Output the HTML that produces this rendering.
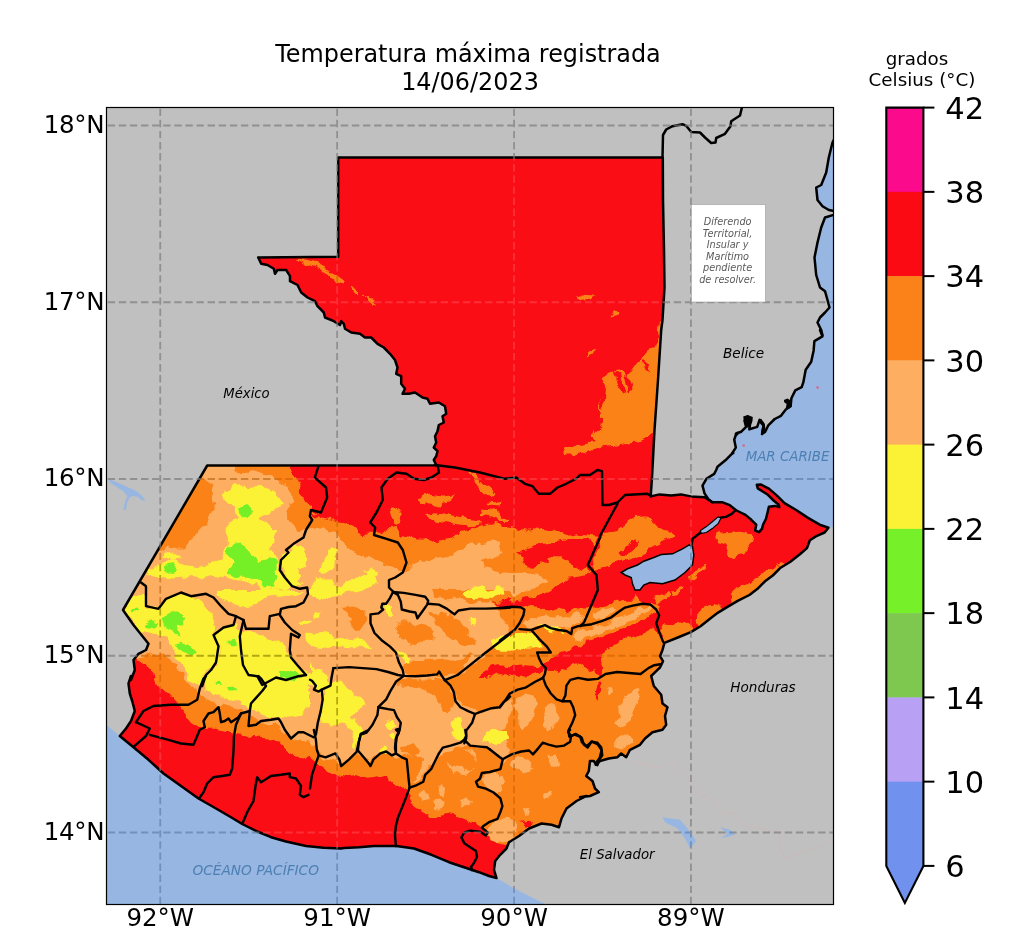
<!DOCTYPE html>
<html lang="es"><head><meta charset="utf-8"><title>Temperatura máxima registrada</title>
<style>
html,body{margin:0;padding:0;background:#fff;}
body{width:1024px;height:944px;overflow:hidden;font-family:"DejaVu Sans","Liberation Sans",sans-serif;}
svg{display:block}
svg text{font-family:"DejaVu Sans","Liberation Sans",sans-serif;fill:#000}
</style></head><body>
<svg width="1024" height="944" viewBox="0 0 1024 944">
<rect width="1024" height="944" fill="#fff"/>
<defs><clipPath id="ax"><rect x="106.5" y="107.5" width="727.0" height="797.0"/></clipPath></defs>
<rect x="106.5" y="107.5" width="727.0" height="797.0" fill="#c0c0c0"/>
<g clip-path="url(#ax)">
<path d="M106.0,724.8 L119.8,736.0 L133.5,747.2 L148.5,759.8 L163.5,773.5 L181.0,786.0 L198.5,798.5 L216.0,808.5 L231.0,817.2 L242.2,824.0 L256.0,831.0 L271.0,837.2 L286.0,841.5 L306.0,846.0 L323.5,847.8 L341.0,848.5 L344.0,848.0 L359.0,847.2 L374.0,846.0 L396.5,846.0 L414.0,848.5 L431.5,854.8 L449.0,862.2 L464.0,867.2 L479.0,872.2 L489.0,876.0 L496.5,878.0 L519.0,891.0 L544.0,903.5 L544.0,906.0 L106.0,906.0Z" fill="#97b6e1" stroke="none" stroke-width="0" />
<path d="M835.0,137.5 L832.5,142.5 L828.8,157.5 L826.2,172.5 L821.2,185.0 L816.2,187.5 L817.5,200.0 L822.5,206.2 L828.8,210.0 L833.0,211.2 L833.0,215.0 L825.0,217.5 L821.2,227.5 L817.5,242.5 L814.5,257.5 L816.2,275.0 L820.0,287.5 L825.0,291.2 L827.5,300.0 L829.5,307.5 L825.0,312.5 L820.0,317.5 L817.5,322.5 L821.2,330.0 L820.0,330.0 L822.4,336.4 L814.4,341.1 L813.6,350.7 L811.2,361.8 L805.7,369.7 L803.3,382.4 L801.7,387.2 L795.3,390.4 L791.4,398.3 L790.6,406.3 L785.8,409.5 L781.0,415.8 L774.7,419.0 L768.3,425.3 L765.2,431.7 L762.0,434.1 L763.6,425.3 L759.6,419.8 L757.2,426.9 L749.3,429.3 L750.9,419.0 L747.7,416.6 L744.5,420.6 L746.1,426.9 L741.3,431.7 L736.5,433.3 L734.2,439.6 L735.8,447.6 L731.8,453.9 L725.4,460.3 L717.5,466.7 L716.2,470.0 L714.2,473.9 L706.4,478.8 L702.5,485.6 L704.5,493.4 L708.4,499.3 L712.3,502.2 L722.0,502.2 L729.8,505.2 L735.7,510.0 L739.6,512.0 L745.5,514.9 L751.3,519.8 L756.2,524.7 L755.2,530.5 L759.1,532.1 L762.1,528.6 L763.0,524.7 L766.0,518.8 L767.9,511.0 L768.9,506.7 L774.8,505.9 L779.3,507.1 L778.7,504.8 L773.6,500.5 L767.9,494.8 L762.7,491.5 L757.8,488.4 L756.8,484.8 L761.1,484.6 L768.9,488.6 L776.7,495.4 L784.5,503.2 L796.2,510.0 L808.0,517.9 L819.7,524.7 L828.5,527.6 L837.3,526.6 L835.0,100.0Z" fill="#97b6e1" stroke="none" stroke-width="0" />
<path d="M108.6,478.8 L119.5,483.4 L129.7,488.0 L136.7,491.2 L142.2,496.0 L145.3,500.6 L142.2,500.6 L137.5,496.7 L132.8,496.0 L129.7,497.5 L127.3,502.2 L125.8,510.0 L123.4,510.0 L125.0,502.2 L127.3,496.0 L123.4,491.2 L117.2,487.3 L110.2,482.7Z" fill="#97b6e1" stroke="none" stroke-width="0" />
<path d="M662.5,817.2 L680.0,819.8 L687.5,828.5 L696.2,841.0 L690.0,848.5 L685.0,838.5 L677.5,828.5 L665.0,822.2Z" fill="#97b6e1" stroke="none" stroke-width="0" />
<path d="M720.0,827.2 L730.0,829.8 L735.0,834.8 L730.0,836.0 L721.2,838.5 L727.5,833.5Z" fill="#97b6e1" stroke="none" stroke-width="0" />
<path d="M632.5,761.0 L650.0,766.0 L665.0,768.5 L671.2,762.2 L675.0,768.5 L685.0,773.5 L690.0,783.5 L697.5,793.5 L710.0,798.5 L717.5,808.5 L723.8,814.8 L735.0,812.2 L737.5,821.0 L745.0,826.0 L760.0,828.5 L780.0,832.2 L781.2,851.0 L785.0,858.5 L805.0,851.0 L820.0,846.0 L830.0,838.5" fill="none" stroke="#cdb8b8" stroke-width="0.8" stroke-linejoin="round" stroke-linecap="round" />
<path d="M338.2,256.8 L338.2,157.5 L662.8,157.5 L663.0,200.0 L664.0,250.0 L664.5,287.5 L662.5,320.0 L661.2,330.0 L658.0,380.0 L654.5,430.0 L652.0,477.5 L650.7,496.4 L659.5,494.4 L671.2,495.4 L681.0,494.4 L690.8,496.4 L704.5,497.3 L712.3,502.2 L722.0,502.2 L729.8,505.2 L735.7,510.0 L739.6,512.0 L745.5,514.9 L751.3,519.8 L756.2,524.7 L755.2,530.5 L759.1,532.1 L762.1,528.6 L763.0,524.7 L766.0,518.8 L767.9,511.0 L768.9,506.7 L774.8,505.9 L779.3,507.1 L778.7,504.8 L773.6,500.5 L767.9,494.8 L762.7,491.5 L757.8,488.4 L756.8,484.8 L761.1,484.6 L768.9,488.6 L776.7,495.4 L784.5,503.2 L796.2,510.0 L808.0,517.9 L819.7,524.7 L828.5,527.6 L824.6,532.5 L815.8,536.4 L809.9,540.3 L807.0,548.1 L800.2,554.0 L790.4,561.8 L780.6,567.7 L772.8,575.5 L765.0,581.3 L757.2,589.1 L749.4,595.0 L737.7,600.9 L727.9,606.7 L718.1,612.6 L710.3,618.4 L700.5,626.2 L690.8,632.1 L679.1,637.0 L664.4,642.9 L662.5,650.0 L660.0,656.2 L663.0,661.2 L660.0,667.5 L656.2,671.2 L651.2,676.0 L653.8,686.0 L661.2,694.8 L662.5,703.5 L667.5,707.2 L665.0,716.0 L666.2,724.8 L662.5,729.8 L652.5,732.2 L645.0,738.5 L640.0,744.8 L630.0,749.8 L626.2,757.2 L621.2,753.5 L617.5,757.2 L608.8,758.5 L600.0,761.0 L596.2,764.8 L593.8,761.0 L590.0,761.0 L588.8,771.0 L586.2,776.0 L592.5,781.0 L595.0,788.5 L598.8,792.2 L590.0,796.0 L580.0,797.2 L586.5,796.0 L576.5,801.0 L566.5,808.5 L561.5,818.5 L559.0,827.2 L551.5,824.8 L541.5,823.5 L529.0,828.5 L519.0,836.0 L509.0,842.2 L506.5,848.5 L500.2,854.8 L495.2,861.0 L494.0,869.8 L496.5,878.0 L489.0,876.0 L479.0,872.2 L464.0,867.2 L449.0,862.2 L431.5,854.8 L414.0,848.5 L396.5,846.0 L374.0,846.0 L359.0,847.2 L344.0,848.0 L341.0,848.5 L323.5,847.8 L306.0,846.0 L286.0,841.5 L271.0,837.2 L256.0,831.0 L242.2,824.0 L231.0,817.2 L216.0,808.5 L198.5,798.5 L181.0,786.0 L163.5,773.5 L148.5,759.8 L133.5,747.2 L119.8,736.0 L126.0,728.5 L131.0,721.0 L134.8,711.0 L132.2,701.0 L129.8,693.5 L128.5,683.5 L131.0,676.0 L131.0,680.0 L134.8,670.0 L133.5,660.0 L138.5,653.8 L146.0,650.0 L148.5,643.8 L143.5,637.5 L133.5,625.0 L123.0,610.0 L207.2,465.5 L436.0,465.3 L436.2,465.0 L433.8,460.0 L436.2,456.2 L437.5,451.2 L433.8,447.5 L436.2,442.5 L435.0,436.2 L437.5,431.2 L438.8,425.0 L443.8,422.5 L442.5,416.2 L446.2,413.8 L445.0,406.2 L438.8,402.5 L430.0,403.8 L427.5,398.8 L422.5,397.5 L415.0,392.5 L408.8,393.8 L402.5,393.8 L405.0,388.8 L401.2,383.8 L401.2,376.2 L396.2,373.8 L397.5,367.5 L395.0,360.0 L390.0,353.8 L383.8,347.5 L377.5,343.8 L371.2,337.5 L365.0,337.5 L360.0,333.8 L351.2,332.5 L345.0,328.8 L343.8,323.8 L341.2,321.2 L340.0,325.0 L333.8,321.2 L325.0,317.5 L323.8,312.5 L317.5,306.2 L315.0,301.2 L307.5,297.5 L301.2,292.5 L297.5,285.0 L290.0,281.2 L290.0,276.2 L286.2,270.0 L277.5,270.0 L275.0,273.8 L273.8,268.8 L267.5,265.0 L261.2,263.8 L258.2,257.5Z" fill="#fb0a14" stroke="none" stroke-width="0" />
<clipPath id="gt"><path d="M338.2,256.8 L338.2,157.5 L662.8,157.5 L663.0,200.0 L664.0,250.0 L664.5,287.5 L662.5,320.0 L661.2,330.0 L658.0,380.0 L654.5,430.0 L652.0,477.5 L650.7,496.4 L659.5,494.4 L671.2,495.4 L681.0,494.4 L690.8,496.4 L704.5,497.3 L712.3,502.2 L722.0,502.2 L729.8,505.2 L735.7,510.0 L739.6,512.0 L745.5,514.9 L751.3,519.8 L756.2,524.7 L755.2,530.5 L759.1,532.1 L762.1,528.6 L763.0,524.7 L766.0,518.8 L767.9,511.0 L768.9,506.7 L774.8,505.9 L779.3,507.1 L778.7,504.8 L773.6,500.5 L767.9,494.8 L762.7,491.5 L757.8,488.4 L756.8,484.8 L761.1,484.6 L768.9,488.6 L776.7,495.4 L784.5,503.2 L796.2,510.0 L808.0,517.9 L819.7,524.7 L828.5,527.6 L824.6,532.5 L815.8,536.4 L809.9,540.3 L807.0,548.1 L800.2,554.0 L790.4,561.8 L780.6,567.7 L772.8,575.5 L765.0,581.3 L757.2,589.1 L749.4,595.0 L737.7,600.9 L727.9,606.7 L718.1,612.6 L710.3,618.4 L700.5,626.2 L690.8,632.1 L679.1,637.0 L664.4,642.9 L662.5,650.0 L660.0,656.2 L663.0,661.2 L660.0,667.5 L656.2,671.2 L651.2,676.0 L653.8,686.0 L661.2,694.8 L662.5,703.5 L667.5,707.2 L665.0,716.0 L666.2,724.8 L662.5,729.8 L652.5,732.2 L645.0,738.5 L640.0,744.8 L630.0,749.8 L626.2,757.2 L621.2,753.5 L617.5,757.2 L608.8,758.5 L600.0,761.0 L596.2,764.8 L593.8,761.0 L590.0,761.0 L588.8,771.0 L586.2,776.0 L592.5,781.0 L595.0,788.5 L598.8,792.2 L590.0,796.0 L580.0,797.2 L586.5,796.0 L576.5,801.0 L566.5,808.5 L561.5,818.5 L559.0,827.2 L551.5,824.8 L541.5,823.5 L529.0,828.5 L519.0,836.0 L509.0,842.2 L506.5,848.5 L500.2,854.8 L495.2,861.0 L494.0,869.8 L496.5,878.0 L489.0,876.0 L479.0,872.2 L464.0,867.2 L449.0,862.2 L431.5,854.8 L414.0,848.5 L396.5,846.0 L374.0,846.0 L359.0,847.2 L344.0,848.0 L341.0,848.5 L323.5,847.8 L306.0,846.0 L286.0,841.5 L271.0,837.2 L256.0,831.0 L242.2,824.0 L231.0,817.2 L216.0,808.5 L198.5,798.5 L181.0,786.0 L163.5,773.5 L148.5,759.8 L133.5,747.2 L119.8,736.0 L126.0,728.5 L131.0,721.0 L134.8,711.0 L132.2,701.0 L129.8,693.5 L128.5,683.5 L131.0,676.0 L131.0,680.0 L134.8,670.0 L133.5,660.0 L138.5,653.8 L146.0,650.0 L148.5,643.8 L143.5,637.5 L133.5,625.0 L123.0,610.0 L207.2,465.5 L436.0,465.3 L436.2,465.0 L433.8,460.0 L436.2,456.2 L437.5,451.2 L433.8,447.5 L436.2,442.5 L435.0,436.2 L437.5,431.2 L438.8,425.0 L443.8,422.5 L442.5,416.2 L446.2,413.8 L445.0,406.2 L438.8,402.5 L430.0,403.8 L427.5,398.8 L422.5,397.5 L415.0,392.5 L408.8,393.8 L402.5,393.8 L405.0,388.8 L401.2,383.8 L401.2,376.2 L396.2,373.8 L397.5,367.5 L395.0,360.0 L390.0,353.8 L383.8,347.5 L377.5,343.8 L371.2,337.5 L365.0,337.5 L360.0,333.8 L351.2,332.5 L345.0,328.8 L343.8,323.8 L341.2,321.2 L340.0,325.0 L333.8,321.2 L325.0,317.5 L323.8,312.5 L317.5,306.2 L315.0,301.2 L307.5,297.5 L301.2,292.5 L297.5,285.0 L290.0,281.2 L290.0,276.2 L286.2,270.0 L277.5,270.0 L275.0,273.8 L273.8,268.8 L267.5,265.0 L261.2,263.8 L258.2,257.5Z"/></clipPath>
<filter id="rough" x="0" y="0" width="1024" height="944" filterUnits="userSpaceOnUse"><feTurbulence type="fractalNoise" baseFrequency="0.09" numOctaves="3" seed="7" result="n"/><feDisplacementMap in="SourceGraphic" in2="n" scale="9" xChannelSelector="R" yChannelSelector="G"/></filter>
<g clip-path="url(#gt)"><g filter="url(#rough)">
<rect x="90" y="140" width="760" height="780" fill="#fb0a14"/>
<path d="M289.9,466.4 L295.8,475.2 L299.7,486.9 L301.6,496.6 L305.5,504.5 L310.4,508.4 L320.0,514.2 L307.8,512.3 L317.6,518.1 L329.3,520.1 L343.0,524.0 L352.7,527.9 L358.6,531.8 L366.4,533.8 L374.2,533.8 L378.1,531.8 L385.9,529.8 L393.8,527.9 L401.6,535.7 L409.4,537.7 L417.2,539.6 L425.0,539.6 L436.7,541.6 L448.4,537.7 L456.2,533.8 L462.1,531.8 L475.8,527.9 L487.5,524.0 L500.0,522.0 L491.7,522.0 L503.4,525.9 L515.2,527.9 L528.8,531.8 L542.5,527.9 L554.2,529.8 L565.9,535.7 L581.6,533.8 L597.2,535.7 L700.0,535.0 L700.0,900.0 L100.0,900.0 L100.0,455.0 L290.0,455.0Z" fill="#fb8219" stroke="none" stroke-width="0" />
<path d="M597.0,533.0 L850.0,533.0 L850.0,640.0 L670.0,646.0 L661.5,643.0 L657.6,634.0 L653.7,622.3 L659.5,614.5 L658.6,606.7 L649.8,602.8 L640.0,604.8 L636.7,595.9 L632.8,599.8 L625.0,599.8 L617.2,601.7 L609.4,603.7 L601.6,607.6 L595.7,605.6 L584.0,605.6 L574.2,607.6 L566.4,611.5 L558.6,609.5 L546.9,609.5 L535.0,607.6 L523.4,605.6 L511.7,605.6 L500.0,606.6 L492.0,604.0 L500.0,601.7 L519.5,599.8 L539.0,595.9 L550.0,590.0 L558.0,584.0 L566.0,579.0 L576.0,577.0 L589.4,574.8 L586.4,567.0 L589.4,561.0 L597.2,535.7Z" fill="#fb0a14" stroke="none" stroke-width="0" />
<path d="M500.0,668.1 L511.7,666.2 L525.4,665.2 L541.0,666.2 L546.9,660.3 L558.6,654.5 L570.3,648.6 L585.9,642.7 L601.6,636.9 L617.2,631.0 L632.8,625.2 L644.5,619.3 L654.3,613.4 L664.1,607.6 L664.1,617.3 L656.2,623.2 L652.3,629.1 L644.5,633.0 L632.8,636.9 L625.0,638.8 L617.2,642.7 L609.4,646.6 L601.6,652.5 L602.5,664.2 L601.6,675.9 L597.7,674.0 L593.8,668.1 L587.9,670.1 L582.0,666.2 L574.2,662.3 L566.4,668.1 L558.6,674.0 L554.7,670.1 L548.8,670.1 L544.9,668.1 L539.1,672.0 L529.3,675.0 L519.5,675.9 L509.8,673.0 L500.0,674.0Z" fill="#fb0a14" stroke="none" stroke-width="0" />
<path d="M479.9,677.9 L487.7,668.1 L497.5,665.2 L510.0,666.2 L510.0,675.9 L501.4,674.0 L493.6,675.0 L485.8,677.9Z" fill="#fb0a14" stroke="none" stroke-width="0" />
<path d="M497.5,601.7 L510.0,597.8 L510.0,605.6 L503.4,604.6Z" fill="#fb0a14" stroke="none" stroke-width="0" />
<path d="M593.8,697.4 L597.7,683.8 L601.6,683.8 L600.6,691.6 L596.7,699.4Z" fill="#fb0a14" stroke="none" stroke-width="0" />
<path d="M517.1,553.3 L526.9,551.3 L538.6,547.4 L548.4,543.5 L562.0,541.6 L573.8,541.6 L587.4,542.5 L573.8,545.5 L565.9,549.4 L571.8,555.2 L577.7,559.1 L583.5,565.0 L575.7,561.1 L565.9,557.2 L558.1,553.3 L552.3,557.2 L546.4,559.1 L548.4,563.0 L540.5,561.1 L532.7,557.2 L526.9,561.1 L528.8,567.0 L523.9,563.0 L523.0,557.2Z" fill="#fb0a14" stroke="none" stroke-width="0" />
<path d="M135.4,658.4 L141.2,662.3 L149.1,668.1 L154.9,675.9 L158.8,685.7 L164.7,693.5 L172.5,699.4 L178.4,705.2 L182.3,711.1 L188.1,718.9 L195.9,724.8 L203.8,728.7 L215.5,728.7 L225.2,730.6 L235.0,734.5 L246.7,736.5 L258.4,737.5 L270.2,738.4 L278.0,742.3 L285.8,750.2 L295.5,756.0 L305.3,758.0 L310.0,757.3 L317.8,763.2 L325.6,769.1 L335.4,773.9 L345.2,776.9 L354.9,774.9 L362.7,777.9 L374.5,776.9 L384.2,774.9 L392.0,780.8 L399.8,786.6 L407.7,790.5 L409.6,798.4 L415.5,806.2 L423.3,812.0 L431.1,815.9 L440.9,815.9 L448.7,814.0 L456.5,815.9 L466.2,819.8 L476.0,823.8 L481.9,827.7 L485.8,831.6 L489.7,839.4 L497.5,843.3 L505.3,845.2 L497.8,843.3 L505.6,845.2 L511.5,841.3 L530.0,900.0 L100.0,900.0 L100.0,655.0Z" fill="#fb0a14" stroke="none" stroke-width="0" />
<path d="M520.2,551.3 L533.9,545.5 L553.4,542.3 L573.0,539.6 L588.6,537.7 L594.5,547.4 L590.5,565.0 L580.8,570.9 L571.0,564.2 L559.3,557.2 L549.5,557.2 L539.8,561.9 L532.0,568.9 L524.1,561.1Z" fill="#fb0a14" stroke="none" stroke-width="0" />
<path d="M597.5,445.0 L592.5,435.0 L596.2,425.0 L600.0,415.0 L597.5,405.0 L602.5,395.0 L605.0,385.0 L602.5,377.5 L610.0,372.5 L620.0,370.0 L627.5,375.0 L635.0,365.0 L642.5,357.5 L650.0,350.0 L656.2,347.5 L658.8,332.5 L660.0,322.5 L670.0,322.5 L670.0,432.5 L653.8,432.5 L647.5,437.5 L637.5,441.2 L625.0,442.5 L612.5,442.5 L602.5,445.0Z" fill="#fb8219" stroke="none" stroke-width="0" />
<path d="M562.5,450.0 L575.0,446.2 L590.0,442.5 L597.5,445.0 L590.0,450.0 L580.0,453.8 L570.0,453.8Z" fill="#fb8219" stroke="none" stroke-width="0" />
<path d="M591.3,565.0 L597.2,549.4 L605.0,533.8 L616.7,529.8 L628.4,522.0 L636.2,517.1 L648.0,516.2 L653.8,522.0 L659.7,527.9 L667.5,529.8 L675.3,535.7 L667.5,539.6 L655.8,541.6 L651.9,547.4 L648.0,553.3 L636.2,557.2 L624.5,561.1 L612.8,565.0 L601.1,568.9 L593.3,570.9Z" fill="#fb8219" stroke="none" stroke-width="0" />
<path d="M640.0,516.9 L647.8,516.9 L653.7,522.7 L661.5,528.6 L671.2,532.5 L675.2,536.4 L667.3,540.3 L659.5,542.3 L653.7,548.1 L647.8,550.1 L640.0,552.0 L632.2,548.1 L632.2,520.8Z" fill="#fb8219" stroke="none" stroke-width="0" />
<path d="M715.2,536.4 L722.0,532.5 L733.8,531.5 L745.5,532.5 L752.3,534.5 L751.3,542.3 L746.4,548.1 L743.5,554.0 L735.7,557.9 L727.9,555.9 L724.0,550.1 L725.9,544.2 L718.1,542.3Z" fill="#fb8219" stroke="none" stroke-width="0" />
<path d="M784.5,563.4 L776.7,566.1 L767.0,571.6 L761.1,576.4 L755.2,578.4 L749.4,582.3 L741.6,584.3 L735.7,589.1 L729.8,595.0 L731.8,602.8 L741.6,606.7 L796.2,567.7Z" fill="#fb8219" stroke="none" stroke-width="0" />
<path d="M696.6,620.4 L698.6,612.6 L704.5,606.7 L712.3,603.8 L718.1,605.7 L721.1,610.6 L722.0,618.4 L700.5,632.1Z" fill="#fb8219" stroke="none" stroke-width="0" />
<path d="M659.5,632.1 L663.4,624.3 L673.2,625.3 L679.1,622.3 L688.8,624.3 L692.7,628.2 L694.7,636.0 L679.1,645.8 L661.5,645.8Z" fill="#fb8219" stroke="none" stroke-width="0" />
<path d="M686.9,576.4 L692.7,571.6 L702.5,566.7 L705.4,568.6 L698.6,573.5 L690.8,579.4Z" fill="#fb8219" stroke="none" stroke-width="0" />
<path d="M671.2,591.1 L684.9,587.2 L683.9,590.1 L673.2,595.0Z" fill="#fb8219" stroke="none" stroke-width="0" />
<path d="M655.6,597.0 L669.3,592.1 L671.2,595.0 L659.5,602.8 L653.7,604.8Z" fill="#fb8219" stroke="none" stroke-width="0" />
<path d="M468.0,473.2 L475.8,475.2 L487.5,486.9 L495.3,494.7 L493.4,496.6 L483.6,490.8 L471.9,481.0Z" fill="#fb8219" stroke="none" stroke-width="0" />
<path d="M417.2,498.6 L428.9,494.7 L444.5,496.6 L456.2,494.7 L452.3,498.6 L444.5,500.5 L440.6,506.4 L428.9,504.5 L421.1,502.5Z" fill="#fb8219" stroke="none" stroke-width="0" />
<path d="M392.8,506.4 L397.7,506.4 L401.6,514.2 L399.6,524.0 L393.8,525.9 L390.8,518.1Z" fill="#fb8219" stroke="none" stroke-width="0" />
<path d="M425.0,514.2 L436.7,512.3 L448.4,516.2 L460.2,518.1 L475.8,520.1 L483.6,524.0 L471.9,525.9 L456.2,524.0 L444.5,522.0 L432.8,520.1Z" fill="#fb8219" stroke="none" stroke-width="0" />
<path d="M479.7,508.4 L491.4,509.3 L503.1,514.2 L503.1,518.1 L491.4,515.2 L481.6,512.3Z" fill="#fb8219" stroke="none" stroke-width="0" />
<path d="M487.5,502.5 L500.0,503.5 L500.0,506.4 L489.5,505.4Z" fill="#fb8219" stroke="none" stroke-width="0" />
<path d="M562.0,451.7 L573.8,445.9 L589.4,442.0 L605.0,440.0 L640.2,440.0 L628.4,442.9 L612.8,444.9 L597.2,447.8 L585.5,451.7 L573.8,454.6 L564.0,454.6Z" fill="#fb8219" stroke="none" stroke-width="0" />
<path d="M480.0,481.0 L487.8,486.9 L494.6,495.7 L485.9,492.7 L480.0,488.8Z" fill="#fb8219" stroke="none" stroke-width="0" />
<path d="M480.0,512.3 L491.7,511.3 L503.4,516.2 L511.2,520.1 L499.5,520.1 L487.8,517.1 L480.0,516.2Z" fill="#fb8219" stroke="none" stroke-width="0" />
<path d="M575.0,297.5 L585.0,293.8 L595.0,294.5 L590.0,298.8 L580.0,300.0Z" fill="#fb8219" stroke="none" stroke-width="0" />
<path d="M610.0,317.5 L613.8,312.5 L618.0,311.2 L615.0,316.2Z" fill="#fb8219" stroke="none" stroke-width="0" />
<path d="M585.0,357.5 L590.0,351.2 L596.2,348.8 L592.5,355.0Z" fill="#fb8219" stroke="none" stroke-width="0" />
<path d="M296.2,258.8 L310.0,260.0 L322.5,265.0 L330.0,271.2 L326.2,272.5 L315.0,267.5 L305.0,263.8Z" fill="#fb8219" stroke="none" stroke-width="0" />
<path d="M325.0,272.5 L335.0,273.8 L343.8,280.0 L341.2,283.8 L332.5,280.0Z" fill="#fb8219" stroke="none" stroke-width="0" />
<path d="M350.0,286.2 L357.5,290.0 L360.0,295.0 L353.8,292.5Z" fill="#fb8219" stroke="none" stroke-width="0" />
<path d="M363.8,295.0 L372.5,298.8 L377.5,303.8 L370.0,301.2Z" fill="#fb8219" stroke="none" stroke-width="0" />
<path d="M613.8,371.2 L620.0,375.0 L623.8,386.2 L627.5,391.2 L622.5,392.5 L617.5,385.0Z" fill="#fb0a14" stroke="none" stroke-width="0" />
<path d="M625.0,375.0 L630.0,377.5 L633.0,387.5 L630.0,391.2 L627.0,383.8Z" fill="#fb0a14" stroke="none" stroke-width="0" />
<path d="M602.5,382.5 L606.2,387.5 L605.0,400.0 L601.2,410.0 L598.8,405.0 L602.0,395.0Z" fill="#fb0a14" stroke="none" stroke-width="0" />
<path d="M642.5,358.8 L647.5,362.5 L650.0,372.5 L645.5,370.0Z" fill="#fb0a14" stroke="none" stroke-width="0" />
<path d="M595.0,417.5 L602.5,420.0 L600.0,430.0 L595.5,435.0 L593.8,426.2Z" fill="#fb0a14" stroke="none" stroke-width="0" />
<path d="M616.7,553.3 L624.5,549.4 L630.4,541.6 L636.2,539.6 L638.2,545.5 L634.3,551.3 L626.5,555.2 L620.6,557.2Z" fill="#fb0a14" stroke="none" stroke-width="0" />
<path d="M200.0,455.0 L235.0,455.0 L235.2,469.0 L241.0,472.0 L253.0,471.0 L264.5,475.0 L276.0,479.0 L286.0,485.0 L292.0,494.7 L290.0,504.5 L286.0,514.0 L292.0,524.0 L300.0,528.0 L311.7,526.0 L323.4,528.0 L335.0,531.8 L343.0,541.6 L350.8,549.4 L362.5,555.3 L374.2,559.0 L384.0,565.0 L397.7,567.0 L403.5,574.8 L409.4,567.0 L421.0,561.0 L436.7,559.0 L448.4,557.0 L458.2,551.3 L466.0,545.5 L479.7,543.5 L491.4,541.6 L500.0,541.6 L499.5,547.4 L501.5,553.3 L491.7,559.0 L484.0,565.0 L499.5,570.9 L519.0,572.8 L538.6,574.8 L546.4,580.6 L538.6,586.5 L519.0,594.3 L499.5,598.2 L490.0,603.0 L500.0,612.0 L510.0,635.0 L458.4,674.0 L456.5,675.9 L444.8,681.8 L452.6,687.7 L456.5,699.4 L462.3,705.2 L472.1,709.1 L479.9,713.0 L493.6,707.2 L501.4,705.2 L510.0,699.4 L507.8,695.5 L513.7,703.3 L511.7,715.0 L505.9,726.7 L500.0,728.7 L510.0,753.4 L503.4,765.2 L501.4,757.3 L493.6,749.5 L485.8,747.6 L476.0,749.5 L466.2,745.6 L454.5,747.6 L444.8,751.5 L438.9,757.3 L433.0,765.2 L427.2,773.0 L419.4,778.8 L411.6,782.7 L415.5,774.9 L421.3,767.1 L423.3,759.3 L415.5,755.4 L407.7,755.4 L401.8,757.3 L395.9,759.3 L392.0,755.4 L384.2,751.5 L376.4,755.4 L370.5,763.2 L362.7,755.4 L356.9,751.5 L347.1,759.3 L339.3,763.2 L329.5,759.3 L321.7,757.3 L317.8,749.5 L315.9,743.7 L310.0,744.3 L305.3,742.3 L293.6,738.4 L285.8,734.5 L279.9,726.7 L274.1,722.8 L266.2,724.8 L258.4,722.8 L250.6,715.0 L242.8,711.1 L235.0,707.2 L227.2,705.2 L215.5,703.3 L207.7,699.4 L201.8,693.5 L197.9,689.6 L192.0,685.7 L184.2,679.8 L178.4,672.0 L176.4,664.2 L168.6,656.4 L158.8,654.5 L145.2,656.4 L135.4,656.4 L127.6,656.4 L119.8,609.5Z" fill="#fdae61" stroke="none" stroke-width="0" />
<path d="M523.4,623.2 L535.2,617.3 L546.9,615.4 L558.6,617.3 L570.3,615.4 L578.1,611.5 L584.0,615.4 L578.1,623.2 L570.3,627.1 L558.6,629.1 L546.9,626.1 L535.2,627.1 L527.3,628.1Z" fill="#fdae61" stroke="none" stroke-width="0" />
<path d="M593.8,615.4 L601.6,609.5 L609.4,607.6 L615.2,609.5 L609.4,615.4 L601.6,619.3 L595.7,619.3Z" fill="#fdae61" stroke="none" stroke-width="0" />
<path d="M572.3,633.0 L585.9,629.1 L601.6,625.2 L617.2,619.3 L628.9,613.4 L640.6,609.5 L648.4,605.6 L652.3,607.6 L644.5,613.4 L632.8,619.3 L621.1,625.2 L609.4,629.1 L597.7,634.9 L585.9,638.8 L576.2,640.8 L572.3,636.9Z" fill="#fdae61" stroke="none" stroke-width="0" />
<path d="M515.6,699.4 L525.4,693.5 L535.2,695.5 L539.1,703.3 L535.2,711.1 L529.3,722.8 L523.4,730.6 L517.6,726.7 L519.5,715.0 L515.6,707.2Z" fill="#fdae61" stroke="none" stroke-width="0" />
<path d="M544.9,711.1 L550.8,703.3 L556.6,707.2 L558.6,717.0 L554.7,726.7 L548.8,732.6 L543.9,726.7Z" fill="#fdae61" stroke="none" stroke-width="0" />
<path d="M617.2,707.2 L625.0,699.4 L632.8,691.6 L640.6,689.6 L638.7,699.4 L634.8,707.2 L630.9,717.0 L625.0,726.7 L619.1,730.6 L615.2,724.8 L619.1,717.0Z" fill="#fdae61" stroke="none" stroke-width="0" />
<path d="M615.2,738.4 L625.0,734.5 L632.8,738.4 L628.9,746.2 L621.1,750.2 L615.2,746.2Z" fill="#fdae61" stroke="none" stroke-width="0" />
<path d="M548.8,758.0 L554.7,756.0 L558.6,761.9 L553.7,766.8 L548.8,763.8Z" fill="#fdae61" stroke="none" stroke-width="0" />
<path d="M608.4,686.7 L612.3,687.7 L612.9,693.5 L609.4,694.5Z" fill="#fdae61" stroke="none" stroke-width="0" />
<path d="M446.7,755.4 L458.4,751.5 L472.1,751.5 L478.0,759.3 L474.1,769.1 L464.3,774.9 L454.5,773.0 L448.7,765.2Z" fill="#fdae61" stroke="none" stroke-width="0" />
<path d="M419.4,792.5 L425.2,789.6 L430.1,793.5 L428.2,799.3 L422.3,800.3Z" fill="#fdae61" stroke="none" stroke-width="0" />
<path d="M431.1,802.3 L438.9,799.3 L444.8,803.2 L442.8,808.1 L435.0,809.1Z" fill="#fdae61" stroke="none" stroke-width="0" />
<path d="M437.0,786.6 L441.8,783.7 L445.2,788.6 L443.8,796.4 L438.9,795.4Z" fill="#fdae61" stroke="none" stroke-width="0" />
<path d="M460.4,800.3 L466.2,797.4 L472.1,800.3 L470.2,806.2 L463.3,806.6Z" fill="#fdae61" stroke="none" stroke-width="0" />
<path d="M481.9,774.9 L497.5,773.0 L503.4,780.8 L501.4,790.5 L493.6,792.5 L485.8,786.6Z" fill="#fdae61" stroke="none" stroke-width="0" />
<path d="M485.8,831.6 L493.6,821.8 L503.4,817.9 L510.0,819.8 L517.0,823.8 L513.1,839.4 L497.5,842.3 L489.7,838.4Z" fill="#fdae61" stroke="none" stroke-width="0" />
<path d="M548.6,755.4 L556.4,754.4 L558.8,761.2 L555.4,767.1 L549.6,765.2Z" fill="#fdae61" stroke="none" stroke-width="0" />
<path d="M542.7,792.5 L549.6,791.5 L550.9,797.4 L544.7,799.3Z" fill="#fdae61" stroke="none" stroke-width="0" />
<path d="M523.2,808.1 L528.1,807.1 L530.0,813.0 L525.2,815.0Z" fill="#fdae61" stroke="none" stroke-width="0" />
<path d="M515.4,755.4 L529.1,759.3 L533.0,771.0 L525.2,773.0 L517.3,769.1 L509.5,765.2Z" fill="#fdae61" stroke="none" stroke-width="0" />
<path d="M617.0,741.7 L626.7,737.8 L634.5,741.7 L626.7,747.6 L618.9,749.5Z" fill="#fdae61" stroke="none" stroke-width="0" />
<path d="M200.1,475.2 L213.8,484.9 L211.8,498.6 L213.8,508.4 L207.9,522.0 L198.1,531.8 L188.4,541.6 L184.5,549.4 L176.6,549.4 L168.8,545.5 L159.1,549.4 L149.3,549.4 L194.2,469.3Z" fill="#fb8219" stroke="none" stroke-width="0" />
<path d="M235.2,467.3 L241.1,472.2 L252.8,471.2 L264.5,475.2 L276.2,479.1 L286.0,484.9 L291.9,494.7 L289.9,504.5 L286.0,514.2 L291.9,524.0 L299.7,531.8 L307.5,527.9 L310.4,518.1 L313.4,510.3 L307.5,506.4 L303.6,502.5 L299.7,488.8 L295.8,475.2 L289.9,464.4 L235.2,464.4Z" fill="#fb8219" stroke="none" stroke-width="0" />
<path d="M300.0,518.1 L317.6,518.1 L344.9,525.9 L358.6,533.8 L374.2,534.7 L393.8,539.6 L401.6,549.4 L403.5,561.1 L397.7,567.0 L384.0,565.0 L374.2,559.1 L362.5,555.2 L350.8,549.4 L343.0,541.6 L335.2,531.8 L323.4,527.9 L311.7,525.9 L300.0,524.0Z" fill="#fb8219" stroke="none" stroke-width="0" />
<path d="M431.1,590.0 L510.0,590.0 L510.0,597.8 L485.8,603.7 L470.2,601.7 L458.4,597.8 L446.7,599.8 L435.0,597.8Z" fill="#fb8219" stroke="none" stroke-width="0" />
<path d="M479.7,561.1 L491.4,558.2 L503.1,559.1 L503.1,565.0 L483.6,567.0Z" fill="#fb8219" stroke="none" stroke-width="0" />
<path d="M343.2,607.6 L353.0,609.5 L362.7,615.4 L364.7,623.2 L360.8,629.1 L353.0,625.2 L347.1,617.3Z" fill="#fb8219" stroke="none" stroke-width="0" />
<path d="M394.0,627.1 L401.8,623.2 L415.5,624.2 L427.2,627.1 L435.0,634.9 L431.1,640.8 L419.4,640.8 L411.6,644.7 L403.8,640.8 L397.9,634.9Z" fill="#fb8219" stroke="none" stroke-width="0" />
<path d="M431.1,613.4 L442.8,611.5 L450.6,615.4 L458.4,621.2 L466.2,629.1 L472.1,636.9 L476.0,644.7 L466.2,646.6 L458.4,642.7 L450.6,636.9 L442.8,631.0 L435.0,623.2Z" fill="#fb8219" stroke="none" stroke-width="0" />
<path d="M403.8,664.2 L415.5,662.3 L427.2,660.3 L442.8,658.4 L454.5,660.3 L466.2,656.4 L474.1,654.5 L458.4,672.0 L444.8,675.9 L435.0,674.0 L419.4,675.9 L405.7,674.0Z" fill="#fb8219" stroke="none" stroke-width="0" />
<path d="M395.9,681.8 L411.6,677.9 L427.2,679.8 L437.0,675.9 L446.7,681.8 L452.6,691.6 L454.5,703.3 L450.6,711.1 L442.8,713.0 L438.9,703.3 L435.0,695.5 L427.2,691.6 L419.4,687.7 L407.7,685.7 L397.9,685.7Z" fill="#fb8219" stroke="none" stroke-width="0" />
<path d="M444.8,754.1 L454.5,750.2 L466.2,752.1 L476.0,758.0 L479.9,765.8 L470.2,769.7 L458.4,767.7 L446.7,761.9Z" fill="#fb8219" stroke="none" stroke-width="0" />
<path d="M399.8,746.2 L411.6,744.3 L419.4,750.2 L415.5,756.0 L405.7,754.1Z" fill="#fb8219" stroke="none" stroke-width="0" />
<path d="M344.7,607.9 L355.0,606.4 L365.2,610.8 L366.7,619.6 L363.7,628.4 L356.4,629.9 L352.0,622.5 L346.2,616.7Z" fill="#fb8219" stroke="none" stroke-width="0" />
<path d="M394.5,625.5 L401.8,621.1 L413.5,622.5 L417.9,631.3 L415.0,641.6 L406.2,643.0 L398.9,637.2Z" fill="#fb8219" stroke="none" stroke-width="0" />
<path d="M521.2,820.8 L527.1,819.8 L533.4,823.8 L529.1,826.3 L523.2,824.9Z" fill="#fb0a14" stroke="none" stroke-width="0" />
<path d="M223.5,490.8 L233.3,485.9 L247.0,486.9 L260.6,485.9 L272.3,490.8 L282.1,498.6 L284.1,505.4 L276.2,508.4 L268.4,514.2 L260.6,518.1 L268.4,524.0 L276.2,531.8 L274.3,541.6 L268.4,549.4 L276.2,557.2 L278.2,565.0 L282.1,576.7 L291.9,584.5 L288.0,590.4 L276.2,588.4 L264.5,590.4 L252.8,584.5 L241.1,580.6 L229.4,580.6 L221.6,576.7 L211.8,574.8 L202.0,578.7 L190.3,576.7 L178.6,576.7 L166.9,578.7 L155.2,576.7 L145.4,574.8 L147.3,568.9 L159.1,565.0 L170.8,561.1 L184.5,565.0 L198.1,567.0 L209.8,565.0 L221.6,561.1 L225.5,551.3 L229.4,541.6 L225.5,531.8 L229.4,522.0 L237.2,516.2 L235.2,506.4 L227.4,504.5 L222.5,498.6Z" fill="#fcf235" stroke="none" stroke-width="0" />
<path d="M164.9,551.3 L176.6,554.3 L180.5,559.1 L170.8,561.1 L162.0,557.2Z" fill="#fcf235" stroke="none" stroke-width="0" />
<path d="M284.1,557.2 L291.9,549.4 L299.7,545.5 L307.5,549.4 L303.6,559.1 L295.8,567.0 L301.6,576.7 L295.8,582.6 L288.0,576.7 L283.1,567.0Z" fill="#fcf235" stroke="none" stroke-width="0" />
<path d="M300.0,545.5 L304.9,546.4 L307.8,557.2 L305.9,567.0 L300.0,568.9Z" fill="#fcf235" stroke="none" stroke-width="0" />
<path d="M329.3,549.4 L336.1,557.2 L335.2,567.0 L325.4,572.8 L320.5,568.9 L323.4,559.1Z" fill="#fcf235" stroke="none" stroke-width="0" />
<path d="M364.5,569.9 L372.3,567.9 L380.1,570.9 L378.1,574.8 L368.4,574.8Z" fill="#fcf235" stroke="none" stroke-width="0" />
<path d="M309.8,584.5 L317.6,576.7 L325.4,584.5 L339.1,586.5 L350.8,580.6 L362.5,576.7 L374.2,576.7 L376.2,584.5 L366.4,588.4 L354.7,592.3 L343.0,592.3 L333.2,596.2 L321.5,598.2 L311.7,592.3Z" fill="#fcf235" stroke="none" stroke-width="0" />
<path d="M462.1,592.3 L469.9,590.4 L475.8,586.5 L485.5,586.5 L487.5,592.3 L479.7,596.2 L468.0,598.2Z" fill="#fcf235" stroke="none" stroke-width="0" />
<path d="M495.3,588.4 L503.1,587.5 L504.1,593.3 L496.3,593.3Z" fill="#fcf235" stroke="none" stroke-width="0" />
<path d="M385.9,609.9 L390.8,608.9 L392.2,613.4 L386.9,614.2Z" fill="#fcf235" stroke="none" stroke-width="0" />
<path d="M480.0,586.5 L485.9,586.5 L486.2,594.3 L480.0,594.3Z" fill="#fcf235" stroke="none" stroke-width="0" />
<path d="M495.6,586.5 L504.4,586.5 L505.4,594.3 L496.6,594.3Z" fill="#fcf235" stroke="none" stroke-width="0" />
<path d="M121.7,609.5 L133.4,595.9 L146.1,595.9 L146.1,607.6 L158.8,608.6 L166.6,599.8 L182.3,594.9 L195.9,597.8 L204.7,601.7 L208.6,609.5 L212.5,619.3 L216.4,626.1 L213.5,632.0 L216.4,640.8 L219.4,648.6 L218.4,658.4 L213.5,666.2 L207.7,670.1 L203.8,677.9 L201.8,685.7 L195.9,683.8 L188.1,679.8 L184.2,672.0 L180.3,662.3 L175.4,654.5 L172.5,646.6 L166.6,638.8 L156.9,635.3 L149.1,634.1 L143.2,632.0 L139.3,629.1 L131.5,619.3Z" fill="#fcf235" stroke="none" stroke-width="0" />
<path d="M215.5,631.0 L227.2,627.1 L237.0,625.2 L240.9,633.0 L246.7,631.0 L258.4,633.0 L266.2,636.9 L278.0,640.8 L285.8,648.6 L291.6,656.4 L297.5,664.2 L305.3,672.0 L310.0,674.0 L310.0,707.2 L301.4,715.0 L293.6,718.9 L285.8,717.0 L278.0,715.0 L266.2,715.0 L258.4,713.0 L250.6,707.2 L244.8,705.2 L237.0,701.3 L227.2,699.4 L215.5,695.5 L205.7,689.6 L203.8,679.8 L209.6,670.1 L215.5,666.2 L219.4,656.4 L219.4,646.6 L215.5,638.8Z" fill="#fcf235" stroke="none" stroke-width="0" />
<path d="M219.4,590.0 L305.3,590.0 L293.6,593.9 L278.0,595.9 L266.2,597.8 L258.4,603.7 L242.8,605.6 L227.2,601.7 L215.5,595.9Z" fill="#fcf235" stroke="none" stroke-width="0" />
<path d="M310.0,590.0 L335.4,590.0 L333.4,595.9 L325.6,599.8 L315.9,597.8 L310.0,595.9Z" fill="#fcf235" stroke="none" stroke-width="0" />
<path d="M310.0,633.0 L321.7,632.0 L335.4,636.9 L345.2,640.8 L356.9,642.7 L368.6,644.7 L374.5,646.6 L368.6,648.6 L356.9,647.6 L341.2,646.6 L329.5,648.6 L317.8,648.6 L310.0,646.6Z" fill="#fcf235" stroke="none" stroke-width="0" />
<path d="M313.9,612.5 L320.7,611.5 L321.7,616.4 L314.9,617.3Z" fill="#fcf235" stroke="none" stroke-width="0" />
<path d="M462.3,593.9 L472.1,591.0 L485.8,592.0 L497.5,590.0 L505.3,593.9 L493.6,597.8 L478.0,597.8 L466.2,597.8Z" fill="#fcf235" stroke="none" stroke-width="0" />
<path d="M470.2,617.3 L475.0,618.3 L476.0,627.1 L471.1,626.1Z" fill="#fcf235" stroke="none" stroke-width="0" />
<path d="M489.7,638.8 L510.0,634.9 L510.0,650.5 L501.4,650.5 L493.6,646.6Z" fill="#fcf235" stroke="none" stroke-width="0" />
<path d="M395.9,648.6 L403.8,652.5 L411.6,660.3 L407.7,664.2 L401.8,658.4Z" fill="#fcf235" stroke="none" stroke-width="0" />
<path d="M310.0,664.2 L319.8,668.1 L329.5,675.9 L330.5,683.8 L321.7,691.6 L315.9,691.6 L310.0,683.8Z" fill="#fcf235" stroke="none" stroke-width="0" />
<path d="M329.5,681.8 L341.2,681.8 L349.1,687.7 L354.9,695.5 L362.7,699.4 L364.7,707.2 L358.8,711.1 L353.0,717.0 L356.9,724.8 L362.7,730.6 L358.8,738.4 L354.9,748.2 L352.0,744.3 L353.9,734.5 L349.1,728.7 L345.2,722.8 L337.3,724.8 L329.5,726.7 L321.7,722.8 L319.8,715.0 L323.7,705.2 L321.7,695.5 L325.6,687.7Z" fill="#fcf235" stroke="none" stroke-width="0" />
<path d="M385.2,722.8 L392.0,719.9 L395.9,724.8 L392.0,730.6 L387.1,727.7Z" fill="#fcf235" stroke="none" stroke-width="0" />
<path d="M377.4,748.2 L382.3,744.3 L388.1,746.2 L386.2,752.1 L379.3,753.1Z" fill="#fcf235" stroke="none" stroke-width="0" />
<path d="M390.1,735.5 L395.9,734.5 L397.9,741.4 L392.0,742.3Z" fill="#fcf235" stroke="none" stroke-width="0" />
<path d="M450.6,720.9 L458.4,718.9 L464.3,726.7 L464.3,736.5 L458.4,740.4 L452.6,734.5Z" fill="#fcf235" stroke="none" stroke-width="0" />
<path d="M483.8,732.6 L493.6,728.7 L503.4,730.6 L505.3,738.4 L497.5,744.3 L489.7,742.3 L483.8,738.4Z" fill="#fcf235" stroke="none" stroke-width="0" />
<path d="M384.2,605.6 L392.0,606.6 L391.1,611.5 L385.2,611.1Z" fill="#fcf235" stroke="none" stroke-width="0" />
<path d="M500.0,644.7 L507.8,636.9 L519.5,633.0 L531.2,632.0 L539.1,640.8 L544.9,648.6 L535.2,648.6 L523.4,648.6 L511.7,650.5 L500.0,650.5Z" fill="#fcf235" stroke="none" stroke-width="0" />
<path d="M535.2,625.2 L550.8,626.1 L562.5,631.0 L566.4,634.9 L554.7,632.0 L543.0,629.1Z" fill="#fcf235" stroke="none" stroke-width="0" />
<path d="M500.0,728.7 L505.9,729.6 L506.8,737.5 L500.0,738.4Z" fill="#fcf235" stroke="none" stroke-width="0" />
<path d="M490.0,730.0 L503.7,730.0 L505.6,737.8 L499.8,743.7 L490.0,741.7Z" fill="#fcf235" stroke="none" stroke-width="0" />
<path d="M283.2,555.2 L290.5,549.3 L299.3,549.3 L303.7,556.6 L305.2,563.9 L299.3,568.3 L296.4,575.7 L299.3,583.0 L305.2,585.9 L294.9,587.4 L287.6,581.5 L283.2,574.2 L281.7,563.9Z" fill="#fcf235" stroke="none" stroke-width="0" />
<path d="M319.8,569.8 L325.7,561.0 L331.5,549.3 L335.9,550.8 L334.4,561.0 L331.5,568.3 L324.2,574.2Z" fill="#fcf235" stroke="none" stroke-width="0" />
<path d="M311.0,584.4 L319.8,578.6 L328.6,578.6 L334.4,584.4 L340.3,588.8 L349.1,584.4 L357.9,578.6 L366.7,572.7 L372.5,569.8 L378.4,571.3 L372.5,578.6 L371.1,585.9 L360.8,588.8 L352.0,591.8 L343.2,593.2 L334.4,596.2 L325.7,599.1 L318.3,596.2 L313.9,590.3Z" fill="#fcf235" stroke="none" stroke-width="0" />
<path d="M299.3,622.5 L308.1,619.6 L312.5,621.1 L308.1,625.5 L302.2,626.9Z" fill="#fcf235" stroke="none" stroke-width="0" />
<path d="M313.9,613.7 L319.8,612.3 L321.3,615.2 L315.4,616.7Z" fill="#fcf235" stroke="none" stroke-width="0" />
<path d="M305.2,634.3 L313.9,632.8 L322.7,635.7 L331.5,637.2 L340.3,638.6 L352.0,640.1 L363.7,641.6 L372.5,644.5 L363.7,646.0 L352.0,644.5 L340.3,644.5 L331.5,647.4 L321.3,648.9 L312.5,647.4 L306.6,641.6Z" fill="#fcf235" stroke="none" stroke-width="0" />
<path d="M384.3,606.4 L391.6,607.2 L391.6,613.7 L385.0,613.7Z" fill="#fcf235" stroke="none" stroke-width="0" />
<path d="M244.8,631.0 L258.4,632.0 L270.2,636.9 L281.9,642.7 L288.7,648.6 L288.7,629.1 L281.9,619.3 L278.0,613.4 L270.2,617.3 L268.2,629.1 L246.7,630.0Z" fill="#fdae61" stroke="none" stroke-width="0" />
<path d="M228.4,545.5 L241.1,543.5 L248.9,553.3 L256.7,561.1 L268.4,559.1 L276.2,561.1 L277.2,576.7 L274.3,586.5 L264.5,587.5 L256.7,580.6 L245.0,576.7 L233.3,576.7 L226.4,574.8 L229.4,567.0 L235.2,561.1 L227.4,555.2Z" fill="#76f028" stroke="none" stroke-width="0" />
<path d="M239.1,507.4 L245.0,504.5 L250.9,508.4 L252.8,516.2 L247.0,518.1 L241.1,515.2Z" fill="#76f028" stroke="none" stroke-width="0" />
<path d="M163.9,566.0 L170.8,564.0 L176.6,567.9 L173.7,572.8 L165.9,572.4Z" fill="#76f028" stroke="none" stroke-width="0" />
<path d="M162.7,615.4 L170.5,611.5 L180.3,611.5 L186.2,617.3 L184.2,623.2 L176.4,625.2 L178.4,631.0 L182.3,636.9 L176.4,634.9 L168.6,629.1 L162.7,625.2Z" fill="#76f028" stroke="none" stroke-width="0" />
<path d="M174.5,644.7 L182.3,642.7 L190.1,646.6 L195.9,652.5 L192.0,655.4 L184.2,652.5 L176.4,650.5Z" fill="#76f028" stroke="none" stroke-width="0" />
<path d="M128.6,608.6 L137.3,607.6 L139.3,610.5 L131.5,612.5Z" fill="#76f028" stroke="none" stroke-width="0" />
<path d="M143.2,625.2 L151.0,621.2 L158.8,622.2 L156.9,627.1 L147.1,629.1Z" fill="#76f028" stroke="none" stroke-width="0" />
<path d="M229.1,639.8 L235.0,638.8 L237.0,645.7 L231.1,646.6Z" fill="#76f028" stroke="none" stroke-width="0" />
<path d="M215.5,680.2 L220.9,679.8 L221.3,683.8 L216.4,684.1Z" fill="#76f028" stroke="none" stroke-width="0" />
<path d="M227.2,686.1 L234.0,685.7 L235.0,691.6 L228.2,691.6Z" fill="#76f028" stroke="none" stroke-width="0" />
<path d="M278.0,672.0 L285.8,670.1 L295.5,672.0 L301.4,675.9 L297.5,679.8 L289.7,680.8 L281.9,677.9Z" fill="#76f028" stroke="none" stroke-width="0" />
</g></g>
<path d="M621.2,572.5 L627.5,568.8 L637.5,565.0 L643.8,561.2 L653.8,557.5 L661.2,554.5 L672.5,553.8 L682.5,548.8 L688.8,545.0 L692.5,546.2 L693.8,555.0 L692.5,565.0 L685.0,572.5 L675.0,580.0 L662.5,583.8 L650.0,582.5 L643.8,585.0 L640.0,590.0 L635.0,590.0 L632.5,583.8 L631.2,577.5 L625.0,575.0Z" fill="#97b6e1" stroke="#000" stroke-width="1.5" />
<path d="M700.5,530.5 L706.4,526.6 L712.3,521.8 L718.1,516.9 L721.1,517.9 L718.1,523.7 L712.3,528.6 L706.4,532.5 L700.5,533.5Z" fill="#97b6e1" stroke="#000" stroke-width="1.2" />
<path d="M435.0,465.0 L455.0,467.5 L480.0,472.5 L505.0,478.8 L516.2,477.5 L525.0,483.8 L532.5,486.2 L538.8,493.8 L550.0,493.8 L557.5,487.5 L566.2,483.8 L576.2,478.8 L580.0,475.0 L590.0,475.0 L597.5,470.0 L602.0,471.2 L602.5,505.0 L608.8,505.0 L617.5,502.5 L625.0,495.0 L647.5,493.8 L651.2,496.2" fill="none" stroke="#000" stroke-width="2.4" stroke-linejoin="round" stroke-linecap="round" />
<path d="M617.5,503.8 L610.0,517.5 L600.0,536.0" fill="none" stroke="#000" stroke-width="2.4" stroke-linejoin="round" stroke-linecap="round" />
<path d="M600.0,537.5 L587.8,565.0 L596.5,575.0 L597.8,590.0 L591.5,605.0 L584.0,622.5 L580.2,626.2" fill="none" stroke="#000" stroke-width="2.4" stroke-linejoin="round" stroke-linecap="round" />
<path d="M318.5,466.2 L314.8,477.5 L326.0,487.5 L327.2,497.5 L321.0,512.5 L311.0,510.0 L309.8,516.2 L312.2,520.0 L306.0,530.0 L303.5,537.5 L293.5,543.8 L286.0,550.0 L288.5,552.5 L281.0,560.0 L279.8,570.0 L284.8,577.5 L292.2,586.2 L299.8,588.8 L307.2,587.5 L308.0,593.8 L303.5,602.5 L296.0,606.2 L288.5,607.0 L281.0,608.8 L279.8,615.0 L284.8,622.5 L292.2,630.0 L299.8,635.0 L298.5,637.5 L291.0,633.8 L289.8,650.0 L291.0,657.5 L297.2,665.0 L306.0,675.0" fill="none" stroke="#000" stroke-width="2.4" stroke-linejoin="round" stroke-linecap="round" />
<path d="M141.0,582.5 L146.0,586.2 L146.0,606.2 L158.5,608.8 L166.0,598.8 L181.0,592.5 L191.0,596.2 L206.0,593.8 L213.5,597.5 L221.0,606.2 L228.5,613.8 L236.0,616.2 L243.5,620.0 L246.0,628.8 L268.5,628.8 L269.8,616.2 L279.8,613.8" fill="none" stroke="#000" stroke-width="2.4" stroke-linejoin="round" stroke-linecap="round" />
<path d="M236.0,616.2 L233.5,625.0 L223.5,627.5 L213.5,635.0 L218.5,646.2 L216.0,662.5 L211.0,670.0 L206.0,675.0 L202.2,686.0" fill="none" stroke="#000" stroke-width="2.4" stroke-linejoin="round" stroke-linecap="round" />
<path d="M243.5,620.0 L239.8,636.2 L241.0,650.0 L243.0,665.0 L248.5,675.0 L257.2,676.2 L262.2,685.0 L276.0,677.5 L286.0,680.0 L298.5,676.2 L306.0,675.0" fill="none" stroke="#000" stroke-width="2.4" stroke-linejoin="round" stroke-linecap="round" />
<path d="M437.8,466.2 L439.0,472.5 L431.5,477.5 L424.0,480.0 L414.0,478.8 L406.5,473.8 L396.5,472.5 L387.8,478.8 L381.5,487.5 L382.8,500.0 L376.5,512.5 L370.2,522.5 L375.2,527.5 L374.0,535.0 L386.5,538.8 L397.8,542.5 L402.8,550.0 L406.5,562.5 L402.8,572.5 L395.2,577.5 L389.0,580.0 L389.0,587.5 L394.0,592.5" fill="none" stroke="#000" stroke-width="2.4" stroke-linejoin="round" stroke-linecap="round" />
<path d="M393.0,592.0 L390.1,597.8 L386.2,603.7 L382.3,603.7 L381.3,607.6 L383.2,609.5 L378.4,613.4 L370.5,614.4 L370.5,623.2 L374.5,633.0 L382.3,640.8 L390.1,646.6 L395.9,652.5 L398.9,662.3 L402.8,670.1 L403.8,675.9" fill="none" stroke="#000" stroke-width="2.4" stroke-linejoin="round" stroke-linecap="round" />
<path d="M393.0,592.0 L397.9,594.9 L400.8,601.7 L401.8,609.5 L409.6,611.5 L415.5,612.5 L417.4,618.3 L422.3,611.5 L427.2,604.6 L428.2,600.7 L425.2,596.8 L415.5,594.9 L403.8,592.9 L393.0,592.0" fill="none" stroke="#000" stroke-width="2.4" stroke-linejoin="round" stroke-linecap="round" />
<path d="M428.2,603.7 L438.9,604.6 L446.7,608.6 L454.5,614.4 L458.4,610.5 L470.2,608.6 L485.8,608.6 L505.3,608.0 L510.0,607.6" fill="none" stroke="#000" stroke-width="2.4" stroke-linejoin="round" stroke-linecap="round" />
<path d="M500.0,608.0 L511.7,606.8 L520.5,607.2 L524.4,609.5 L523.4,615.4 L519.5,623.2 L514.6,630.0 L505.9,635.9 L500.0,640.4" fill="none" stroke="#000" stroke-width="2.4" stroke-linejoin="round" stroke-linecap="round" />
<path d="M510.0,633.9 L485.8,652.5 L466.2,668.1 L457.5,675.0" fill="none" stroke="#000" stroke-width="2.4" stroke-linejoin="round" stroke-linecap="round" />
<path d="M333.4,668.1 L349.1,667.1 L362.7,668.1 L376.4,669.1 L388.1,672.0 L397.9,675.0 L403.8,675.9 L415.5,676.3 L427.2,675.5 L437.0,674.4 L439.3,671.6 L441.8,675.9 L444.8,680.2 L457.5,675.0" fill="none" stroke="#000" stroke-width="2.4" stroke-linejoin="round" stroke-linecap="round" />
<path d="M333.4,668.1 L331.5,677.9 L330.5,685.7 L321.7,689.6 L318.8,691.6 L313.9,689.6 L315.9,685.7 L312.0,680.8 L310.0,679.8" fill="none" stroke="#000" stroke-width="2.4" stroke-linejoin="round" stroke-linecap="round" />
<path d="M321.7,689.6 L322.7,699.4 L320.7,711.1 L317.8,722.8 L315.9,734.5" fill="none" stroke="#000" stroke-width="2.4" stroke-linejoin="round" stroke-linecap="round" />
<path d="M403.8,675.9 L395.9,681.8 L390.1,691.6 L386.2,699.4 L380.3,705.2 L378.4,707.2" fill="none" stroke="#000" stroke-width="2.4" stroke-linejoin="round" stroke-linecap="round" />
<path d="M378.4,707.2 L377.4,715.0 L372.5,724.8 L366.6,732.6 L360.8,734.5 L358.8,742.3 L356.9,750.2" fill="none" stroke="#000" stroke-width="2.4" stroke-linejoin="round" stroke-linecap="round" />
<path d="M378.4,707.2 L388.1,709.1 L394.0,710.1 L396.9,717.0 L400.8,722.8 L399.8,728.7 L395.9,729.6 L398.9,732.6 L395.9,738.4 L395.0,748.2 L395.9,752.1" fill="none" stroke="#000" stroke-width="2.4" stroke-linejoin="round" stroke-linecap="round" />
<path d="M444.8,680.2 L450.6,685.7 L453.6,691.6 L455.5,701.3 L460.4,707.2 L468.2,711.1 L475.0,714.0 L479.9,712.1 L491.6,708.2 L499.5,707.2 L503.4,702.3 L507.3,699.4 L510.0,696.4" fill="none" stroke="#000" stroke-width="2.4" stroke-linejoin="round" stroke-linecap="round" />
<path d="M475.0,714.0 L472.1,722.8 L466.2,730.6 L466.2,738.4 L464.3,743.3" fill="none" stroke="#000" stroke-width="2.4" stroke-linejoin="round" stroke-linecap="round" />
<path d="M519.5,629.1 L531.2,630.0 L539.1,627.1 L544.9,625.2 L550.8,628.1 L558.6,630.0 L566.4,631.0 L571.3,633.9 L572.3,628.1 L578.1,626.1 L591.8,624.2 L601.6,621.2 L611.3,617.3 L619.1,611.5 L625.0,607.6 L632.8,605.6 L642.6,603.7 L650.4,604.6 L656.2,609.5 L659.2,615.4 L656.2,623.2 L658.2,629.1 L661.1,636.9 L663.1,641.8" fill="none" stroke="#000" stroke-width="2.4" stroke-linejoin="round" stroke-linecap="round" />
<path d="M532.2,631.0 L539.1,638.8 L546.9,646.6 L550.8,652.5 L537.1,652.5 L539.1,658.4 L542.0,664.2 L545.9,668.1 L544.9,674.0 L543.0,677.9" fill="none" stroke="#000" stroke-width="2.4" stroke-linejoin="round" stroke-linecap="round" />
<path d="M543.0,677.9 L535.2,681.8 L525.4,687.7 L517.6,689.6 L509.8,693.5 L505.9,699.4 L500.0,707.2" fill="none" stroke="#000" stroke-width="2.4" stroke-linejoin="round" stroke-linecap="round" />
<path d="M543.0,677.9 L545.9,685.7 L550.8,693.5 L556.6,699.4 L562.5,701.3 L565.4,695.5 L566.4,685.7 L570.3,679.8 L578.1,677.9 L587.9,679.8 L597.7,678.9 L605.5,674.0 L617.2,672.0 L628.9,673.0 L640.6,674.0 L648.4,668.1 L654.3,665.2 L660.2,664.2" fill="none" stroke="#000" stroke-width="2.4" stroke-linejoin="round" stroke-linecap="round" />
<path d="M562.5,701.3 L570.3,701.3 L573.2,707.2 L575.2,715.0 L572.3,722.8 L568.4,730.6 L569.3,736.5 L574.2,734.5 L580.1,736.5 L582.0,742.3 L586.9,746.2 L591.8,741.4 L597.7,744.3 L601.6,750.2 L599.6,758.0 L596.7,761.9 L595.7,764.8" fill="none" stroke="#000" stroke-width="2.4" stroke-linejoin="round" stroke-linecap="round" />
<path d="M735.7,510.0 L731.8,513.9 L725.9,516.9 L721.1,517.5" fill="none" stroke="#000" stroke-width="2.4" stroke-linejoin="round" stroke-linecap="round" />
<path d="M700.5,532.5 L695.7,536.4 L692.7,538.4 L691.8,544.2" fill="none" stroke="#000" stroke-width="2.4" stroke-linejoin="round" stroke-linecap="round" />
<path d="M313.9,730.0 L315.9,739.8 L316.8,749.5 L318.8,755.4 L315.9,763.2 L312.0,774.9 L310.0,788.6" fill="none" stroke="#000" stroke-width="2.4" stroke-linejoin="round" stroke-linecap="round" />
<path d="M318.8,755.4 L325.6,757.3 L335.4,753.4 L339.3,759.3 L341.2,766.1 L349.1,759.3 L357.9,750.5 L363.7,757.3 L368.6,763.2 L370.5,766.1 L373.5,759.3 L380.3,753.4 L386.2,751.5 L392.0,755.4 L395.9,753.4" fill="none" stroke="#000" stroke-width="2.4" stroke-linejoin="round" stroke-linecap="round" />
<path d="M357.9,750.5 L358.8,741.7 L360.8,733.9 L368.6,730.0" fill="none" stroke="#000" stroke-width="2.4" stroke-linejoin="round" stroke-linecap="round" />
<path d="M395.9,753.4 L395.9,743.7 L396.9,735.9 L399.8,730.0" fill="none" stroke="#000" stroke-width="2.4" stroke-linejoin="round" stroke-linecap="round" />
<path d="M395.9,753.4 L401.8,757.3 L406.7,759.3 L407.7,769.1 L408.6,778.8 L409.6,787.6" fill="none" stroke="#000" stroke-width="2.4" stroke-linejoin="round" stroke-linecap="round" />
<path d="M409.6,787.6 L405.7,798.4 L401.8,808.1 L397.9,817.9 L395.9,825.7 L395.0,835.5 L395.9,846.2" fill="none" stroke="#000" stroke-width="2.4" stroke-linejoin="round" stroke-linecap="round" />
<path d="M409.6,787.6 L415.5,785.7 L423.3,781.8 L425.2,774.9 L431.1,769.1 L435.0,761.2 L438.9,753.4 L442.8,747.6 L450.6,745.6 L460.4,742.7 L464.3,739.8 L466.2,735.9 L465.3,730.0" fill="none" stroke="#000" stroke-width="2.4" stroke-linejoin="round" stroke-linecap="round" />
<path d="M464.3,739.8 L470.2,745.6 L479.9,746.6 L486.8,747.2 L490.0,749.5" fill="none" stroke="#000" stroke-width="2.4" stroke-linejoin="round" stroke-linecap="round" />
<path d="M502.8,759.3 L500.4,769.1 L489.7,772.0 L481.9,773.0 L479.9,778.8 L476.0,781.8 L478.0,786.6 L485.8,788.6 L493.6,792.5 L500.4,798.4 L502.4,806.2 L500.4,812.0 L497.5,818.9 L489.7,821.8 L483.8,825.7 L481.9,827.7 L487.7,832.5 L485.8,835.5 L479.9,831.6 L470.2,830.6 L464.3,832.5 L461.4,837.4 L464.3,843.3 L470.2,847.2 L476.0,851.1 L477.0,857.0 L474.1,862.8 L471.1,866.7 L472.1,870.2" fill="none" stroke="#000" stroke-width="2.4" stroke-linejoin="round" stroke-linecap="round" />
<path d="M490.0,749.5 L499.8,757.3 L502.7,759.3 L511.5,754.4 L521.2,751.5 L529.1,750.5 L533.0,754.4 L538.8,747.6 L542.7,742.7 L548.6,744.6 L556.4,746.6 L564.2,745.6 L570.1,741.7 L571.1,735.9 L568.1,732.0 L570.1,730.0" fill="none" stroke="#000" stroke-width="2.4" stroke-linejoin="round" stroke-linecap="round" />
<path d="M570.1,736.8 L575.9,733.9 L581.8,737.8 L583.8,744.6 L587.7,747.6 L591.6,741.7 L597.4,742.7 L601.3,747.6 L602.3,755.4 L599.4,759.3 L597.4,765.2" fill="none" stroke="#000" stroke-width="2.4" stroke-linejoin="round" stroke-linecap="round" />
<path d="M136.0,722.2 L143.5,711.0 L153.5,706.0 L171.0,704.8 L188.5,704.8 L197.2,699.8 L199.8,688.5 L203.5,678.5 L206.0,676.0" fill="none" stroke="#000" stroke-width="2.4" stroke-linejoin="round" stroke-linecap="round" />
<path d="M136.0,722.2 L149.8,728.5 L146.0,736.0 L133.5,746.8" fill="none" stroke="#000" stroke-width="2.4" stroke-linejoin="round" stroke-linecap="round" />
<path d="M149.8,734.8 L168.5,739.8 L181.0,743.5 L193.5,744.8 L199.8,729.8 L204.8,727.2" fill="none" stroke="#000" stroke-width="2.4" stroke-linejoin="round" stroke-linecap="round" />
<path d="M204.8,727.2 L203.5,721.0 L208.5,713.5 L213.5,712.2 L218.5,707.2 L219.8,713.5 L221.0,722.2 L224.8,721.0 L228.5,718.5 L231.0,722.2 L238.5,717.2 L241.0,713.5 L249.8,711.0 L251.0,703.5 L262.2,691.0 L266.0,686.0 L261.0,678.5 L258.5,676.0" fill="none" stroke="#000" stroke-width="2.4" stroke-linejoin="round" stroke-linecap="round" />
<path d="M241.0,713.5 L236.0,724.8 L234.0,736.0 L233.5,751.0 L232.2,768.5 L229.8,774.8 L222.2,776.0 L213.5,777.2 L207.2,783.5 L203.5,792.2 L199.0,798.5" fill="none" stroke="#000" stroke-width="2.4" stroke-linejoin="round" stroke-linecap="round" />
<path d="M249.8,711.0 L248.5,726.0 L256.0,724.8 L261.0,721.0 L271.0,719.8 L278.5,718.5 L281.0,722.2 L284.8,729.8 L291.0,738.5 L298.5,732.2 L303.5,732.2 L313.5,737.2" fill="none" stroke="#000" stroke-width="2.4" stroke-linejoin="round" stroke-linecap="round" />
<path d="M308.5,794.8 L303.5,797.2 L299.8,794.8 L301.0,786.0 L296.0,778.5 L289.8,777.2 L289.8,773.5 L281.0,774.8 L271.0,776.0 L261.0,782.2 L257.2,777.2 L255.5,786.0 L253.5,801.0 L247.2,812.2 L242.2,824.0" fill="none" stroke="#000" stroke-width="2.4" stroke-linejoin="round" stroke-linecap="round" />
<path d="M338.2,256.8 L338.2,157.5 L662.8,157.5 L663.0,200.0 L664.0,250.0 L664.5,287.5 L662.5,320.0 L661.2,330.0 L658.0,380.0 L654.5,430.0 L652.0,477.5 L650.7,496.4 L659.5,494.4 L671.2,495.4 L681.0,494.4 L690.8,496.4 L704.5,497.3 L712.3,502.2 L722.0,502.2 L729.8,505.2 L735.7,510.0 L739.6,512.0 L745.5,514.9 L751.3,519.8 L756.2,524.7 L755.2,530.5 L759.1,532.1 L762.1,528.6 L763.0,524.7 L766.0,518.8 L767.9,511.0 L768.9,506.7 L774.8,505.9 L779.3,507.1 L778.7,504.8 L773.6,500.5 L767.9,494.8 L762.7,491.5 L757.8,488.4 L756.8,484.8 L761.1,484.6 L768.9,488.6 L776.7,495.4 L784.5,503.2 L796.2,510.0 L808.0,517.9 L819.7,524.7 L828.5,527.6 L824.6,532.5 L815.8,536.4 L809.9,540.3 L807.0,548.1 L800.2,554.0 L790.4,561.8 L780.6,567.7 L772.8,575.5 L765.0,581.3 L757.2,589.1 L749.4,595.0 L737.7,600.9 L727.9,606.7 L718.1,612.6 L710.3,618.4 L700.5,626.2 L690.8,632.1 L679.1,637.0 L664.4,642.9 L662.5,650.0 L660.0,656.2 L663.0,661.2 L660.0,667.5 L656.2,671.2 L651.2,676.0 L653.8,686.0 L661.2,694.8 L662.5,703.5 L667.5,707.2 L665.0,716.0 L666.2,724.8 L662.5,729.8 L652.5,732.2 L645.0,738.5 L640.0,744.8 L630.0,749.8 L626.2,757.2 L621.2,753.5 L617.5,757.2 L608.8,758.5 L600.0,761.0 L596.2,764.8 L593.8,761.0 L590.0,761.0 L588.8,771.0 L586.2,776.0 L592.5,781.0 L595.0,788.5 L598.8,792.2 L590.0,796.0 L580.0,797.2 L586.5,796.0 L576.5,801.0 L566.5,808.5 L561.5,818.5 L559.0,827.2 L551.5,824.8 L541.5,823.5 L529.0,828.5 L519.0,836.0 L509.0,842.2 L506.5,848.5 L500.2,854.8 L495.2,861.0 L494.0,869.8 L496.5,878.0 L489.0,876.0 L479.0,872.2 L464.0,867.2 L449.0,862.2 L431.5,854.8 L414.0,848.5 L396.5,846.0 L374.0,846.0 L359.0,847.2 L344.0,848.0 L341.0,848.5 L323.5,847.8 L306.0,846.0 L286.0,841.5 L271.0,837.2 L256.0,831.0 L242.2,824.0 L231.0,817.2 L216.0,808.5 L198.5,798.5 L181.0,786.0 L163.5,773.5 L148.5,759.8 L133.5,747.2 L119.8,736.0 L126.0,728.5 L131.0,721.0 L134.8,711.0 L132.2,701.0 L129.8,693.5 L128.5,683.5 L131.0,676.0 L131.0,680.0 L134.8,670.0 L133.5,660.0 L138.5,653.8 L146.0,650.0 L148.5,643.8 L143.5,637.5 L133.5,625.0 L123.0,610.0 L207.2,465.5 L436.0,465.3 L436.2,465.0 L433.8,460.0 L436.2,456.2 L437.5,451.2 L433.8,447.5 L436.2,442.5 L435.0,436.2 L437.5,431.2 L438.8,425.0 L443.8,422.5 L442.5,416.2 L446.2,413.8 L445.0,406.2 L438.8,402.5 L430.0,403.8 L427.5,398.8 L422.5,397.5 L415.0,392.5 L408.8,393.8 L402.5,393.8 L405.0,388.8 L401.2,383.8 L401.2,376.2 L396.2,373.8 L397.5,367.5 L395.0,360.0 L390.0,353.8 L383.8,347.5 L377.5,343.8 L371.2,337.5 L365.0,337.5 L360.0,333.8 L351.2,332.5 L345.0,328.8 L343.8,323.8 L341.2,321.2 L340.0,325.0 L333.8,321.2 L325.0,317.5 L323.8,312.5 L317.5,306.2 L315.0,301.2 L307.5,297.5 L301.2,292.5 L297.5,285.0 L290.0,281.2 L290.0,276.2 L286.2,270.0 L277.5,270.0 L275.0,273.8 L273.8,268.8 L267.5,265.0 L261.2,263.8 L258.2,257.5Z" fill="none" stroke="#000" stroke-width="2.5" stroke-linejoin="round"/>
<path d="M662.5,157.5 L663.0,135.0 L666.2,129.5 L672.5,126.2 L682.5,124.2 L686.2,125.8 L691.2,132.0 L700.0,132.5 L705.0,137.5 L711.2,143.0 L715.5,142.5 L716.2,138.0 L725.0,133.8 L730.5,126.2 L731.2,121.2 L740.0,115.5 L742.5,105.0" fill="none" stroke="#000" stroke-width="2.5" stroke-linejoin="round" stroke-linecap="round" />
<path d="M835.0,137.5 L832.5,142.5 L828.8,157.5 L826.2,172.5 L821.2,185.0 L816.2,187.5 L817.5,200.0 L822.5,206.2 L828.8,210.0 L835.0,211.2" fill="none" stroke="#000" stroke-width="2.5" stroke-linejoin="round" stroke-linecap="round" />
<path d="M835.0,214.5 L825.0,217.5 L821.2,227.5 L817.5,242.5 L814.5,257.5 L816.2,275.0 L820.0,287.5 L825.0,291.2 L827.5,300.0 L829.5,307.5 L825.0,312.5 L820.0,317.5 L817.5,322.5 L821.2,330.0 L820.0,330.0 L822.4,336.4 L814.4,341.1 L813.6,350.7 L811.2,361.8 L805.7,369.7 L803.3,382.4 L801.7,387.2 L795.3,390.4 L791.4,398.3 L790.6,406.3 L785.8,409.5 L781.0,415.8 L774.7,419.0 L768.3,425.3 L765.2,431.7 L762.0,434.1 L763.6,425.3 L759.6,419.8 L757.2,426.9 L749.3,429.3 L750.9,419.0 L747.7,416.6 L744.5,420.6 L746.1,426.9 L741.3,431.7 L736.5,433.3 L734.2,439.6 L735.8,447.6 L731.8,453.9 L725.4,460.3 L717.5,466.7 L716.2,470.0 L714.2,473.9 L706.4,478.8 L702.5,485.6 L704.5,493.4 L708.4,499.3 L712.3,502.2" fill="none" stroke="#000" stroke-width="2.5" stroke-linejoin="round" stroke-linecap="round" />
<path d="M743.2,416.6 L747.7,415.0 L752.8,417.1 L752.4,421.4 L750.5,425.3 L747.7,427.7 L745.3,425.3 L746.1,421.4 L743.7,419.8Z" fill="#000" stroke="none" stroke-width="0" />
<path d="M758.5,419.8 L761.2,418.7 L764.8,423.8 L765.5,430.1 L762.8,434.1 L761.2,431.7 L762.3,426.1 L759.6,423.0Z" fill="#000" stroke="none" stroke-width="0" />
<path d="M783.9,399.9 L787.4,398.6 L791.4,400.7 L791.8,406.3 L789.0,408.7 L785.8,407.9 L786.6,403.9 L784.2,402.3Z" fill="#000" stroke="none" stroke-width="0" />
<path d="M734.6,433.3 L737.3,431.7 L738.9,434.1 L736.9,436.1 L735.0,435.7Z" fill="#000" stroke="none" stroke-width="0" />
<path d="M731.5,452.0 L733.7,451.1 L734.6,453.6 L732.6,454.9Z" fill="#000" stroke="none" stroke-width="0" />
<path d="M819.5,330.8 L822.4,330.0 L823.9,335.6 L822.0,337.2 L820.8,334.0Z" fill="#000" stroke="none" stroke-width="0" />
<circle cx="817.6" cy="387.5" r="1.3" fill="#d9668a"/>
<circle cx="743.7" cy="445.5" r="1.3" fill="#d9668a"/>
<g stroke="#7a7a7a" stroke-width="1.8" stroke-dasharray="7.4,3.7" stroke-dashoffset="-1.2" fill="none" opacity="0.68" style="mix-blend-mode:luminosity">
<path d="M160.25,107.5 V904.5" />
<path d="M337.15,107.5 V904.5" />
<path d="M514.05,107.5 V904.5" />
<path d="M690.95,107.5 V904.5" />
<path d="M106.5,125.50 H833.5" />
<path d="M106.5,302.25 H833.5" />
<path d="M106.5,479.00 H833.5" />
<path d="M106.5,655.75 H833.5" />
<path d="M106.5,832.50 H833.5" />
</g>
<text x="246.5" y="397.6" font-size="13.2" font-style="italic" text-anchor="middle" style="fill:#000" >México</text>
<text x="743.5" y="357.5" font-size="13.6" font-style="italic" text-anchor="middle" style="fill:#000" >Belice</text>
<text x="763" y="692.3" font-size="13.6" font-style="italic" text-anchor="middle" style="fill:#000" >Honduras</text>
<text x="617.2" y="859.3" font-size="13.3" font-style="italic" text-anchor="middle" style="fill:#000" >El Salvador</text>
<text x="255.7" y="874.8" font-size="13.7" font-style="italic" text-anchor="middle" style="fill:#4c7fb3" >OCÉANO PACÍFICO</text>
<text x="787.5" y="460.5" font-size="13.4" font-style="italic" text-anchor="middle" style="fill:#4c7fb3" >MAR CARIBE</text>
<rect x="691.3" y="204.5" width="74.2" height="97.5" fill="#fff" stroke="#999" stroke-width="0.6"/>
<text x="727.6" y="225.0" font-size="9.72" font-style="italic" text-anchor="middle" style="fill:#5a5a5a" >Diferendo</text>
<text x="727.6" y="236.55" font-size="9.72" font-style="italic" text-anchor="middle" style="fill:#5a5a5a" >Territorial,</text>
<text x="727.6" y="248.1" font-size="9.72" font-style="italic" text-anchor="middle" style="fill:#5a5a5a" >Insular y</text>
<text x="727.6" y="259.65" font-size="9.72" font-style="italic" text-anchor="middle" style="fill:#5a5a5a" >Marítimo</text>
<text x="727.6" y="271.2" font-size="9.72" font-style="italic" text-anchor="middle" style="fill:#5a5a5a" >pendiente</text>
<text x="727.6" y="282.75" font-size="9.72" font-style="italic" text-anchor="middle" style="fill:#5a5a5a" >de resolver.</text>
</g>
<rect x="106.5" y="107.5" width="727.0" height="797.0" fill="none" stroke="#000" stroke-width="1.2"/>
<text x="104.4" y="132.80" text-anchor="end" font-size="24.5" letter-spacing="-0.25">18°N</text>
<text x="104.4" y="309.55" text-anchor="end" font-size="24.5" letter-spacing="-0.25">17°N</text>
<text x="104.4" y="486.30" text-anchor="end" font-size="24.5" letter-spacing="-0.25">16°N</text>
<text x="104.4" y="663.05" text-anchor="end" font-size="24.5" letter-spacing="-0.25">15°N</text>
<text x="104.4" y="839.80" text-anchor="end" font-size="24.5" letter-spacing="-0.25">14°N</text>
<text x="160.25" y="926" text-anchor="middle" font-size="24.5">92°W</text>
<text x="337.15" y="926" text-anchor="middle" font-size="24.5">91°W</text>
<text x="514.05" y="926" text-anchor="middle" font-size="24.5">90°W</text>
<text x="690.95" y="926" text-anchor="middle" font-size="24.5">89°W</text>
<text x="468" y="62.2" text-anchor="middle" font-size="23.9">Temperatura máxima registrada</text>
<text x="470" y="90.4" text-anchor="middle" font-size="23.9">14/06/2023</text>
<text x="917" y="65" text-anchor="middle" font-size="18.3">grados</text>
<text x="922" y="85.5" text-anchor="middle" font-size="18.3">Celsius (°C)</text>
<rect x="886.3" y="107.60" width="37.10000000000002" height="84.76" fill="#fb0a8c"/>
<rect x="886.3" y="191.86" width="37.10000000000002" height="84.76" fill="#fb0a14"/>
<rect x="886.3" y="276.11" width="37.10000000000002" height="84.76" fill="#fb8219"/>
<rect x="886.3" y="360.37" width="37.10000000000002" height="84.76" fill="#fdae61"/>
<rect x="886.3" y="444.62" width="37.10000000000002" height="84.76" fill="#fcf235"/>
<rect x="886.3" y="528.88" width="37.10000000000002" height="84.76" fill="#76f028"/>
<rect x="886.3" y="613.13" width="37.10000000000002" height="84.76" fill="#7ec850"/>
<rect x="886.3" y="697.39" width="37.10000000000002" height="84.76" fill="#b8a0f5"/>
<rect x="886.3" y="781.64" width="37.10000000000002" height="84.76" fill="#7092ee"/>
<path d="M886.3,865.9 L904.8499999999999,903 L923.4,865.9Z" fill="#7092ee"/>
<path d="M886.3,107.6 L923.4,107.6 L923.4,865.9 L904.8499999999999,903 L886.3,865.9Z" fill="none" stroke="#000" stroke-width="2.1" stroke-linejoin="miter"/>
<path d="M923.4,107.60 h11" stroke="#000" stroke-width="2"/>
<text x="945.3" y="118.80" font-size="30.5">42</text>
<path d="M923.4,191.86 h11" stroke="#000" stroke-width="2"/>
<text x="945.3" y="203.06" font-size="30.5">38</text>
<path d="M923.4,276.11 h11" stroke="#000" stroke-width="2"/>
<text x="945.3" y="287.31" font-size="30.5">34</text>
<path d="M923.4,360.37 h11" stroke="#000" stroke-width="2"/>
<text x="945.3" y="371.57" font-size="30.5">30</text>
<path d="M923.4,444.62 h11" stroke="#000" stroke-width="2"/>
<text x="945.3" y="455.82" font-size="30.5">26</text>
<path d="M923.4,528.88 h11" stroke="#000" stroke-width="2"/>
<text x="945.3" y="540.08" font-size="30.5">22</text>
<path d="M923.4,613.13 h11" stroke="#000" stroke-width="2"/>
<text x="945.3" y="624.33" font-size="30.5">18</text>
<path d="M923.4,697.39 h11" stroke="#000" stroke-width="2"/>
<text x="945.3" y="708.59" font-size="30.5">14</text>
<path d="M923.4,781.64 h11" stroke="#000" stroke-width="2"/>
<text x="945.3" y="792.84" font-size="30.5">10</text>
<path d="M923.4,865.90 h11" stroke="#000" stroke-width="2"/>
<text x="945.3" y="877.10" font-size="30.5">6</text>
</svg>
</body></html>
